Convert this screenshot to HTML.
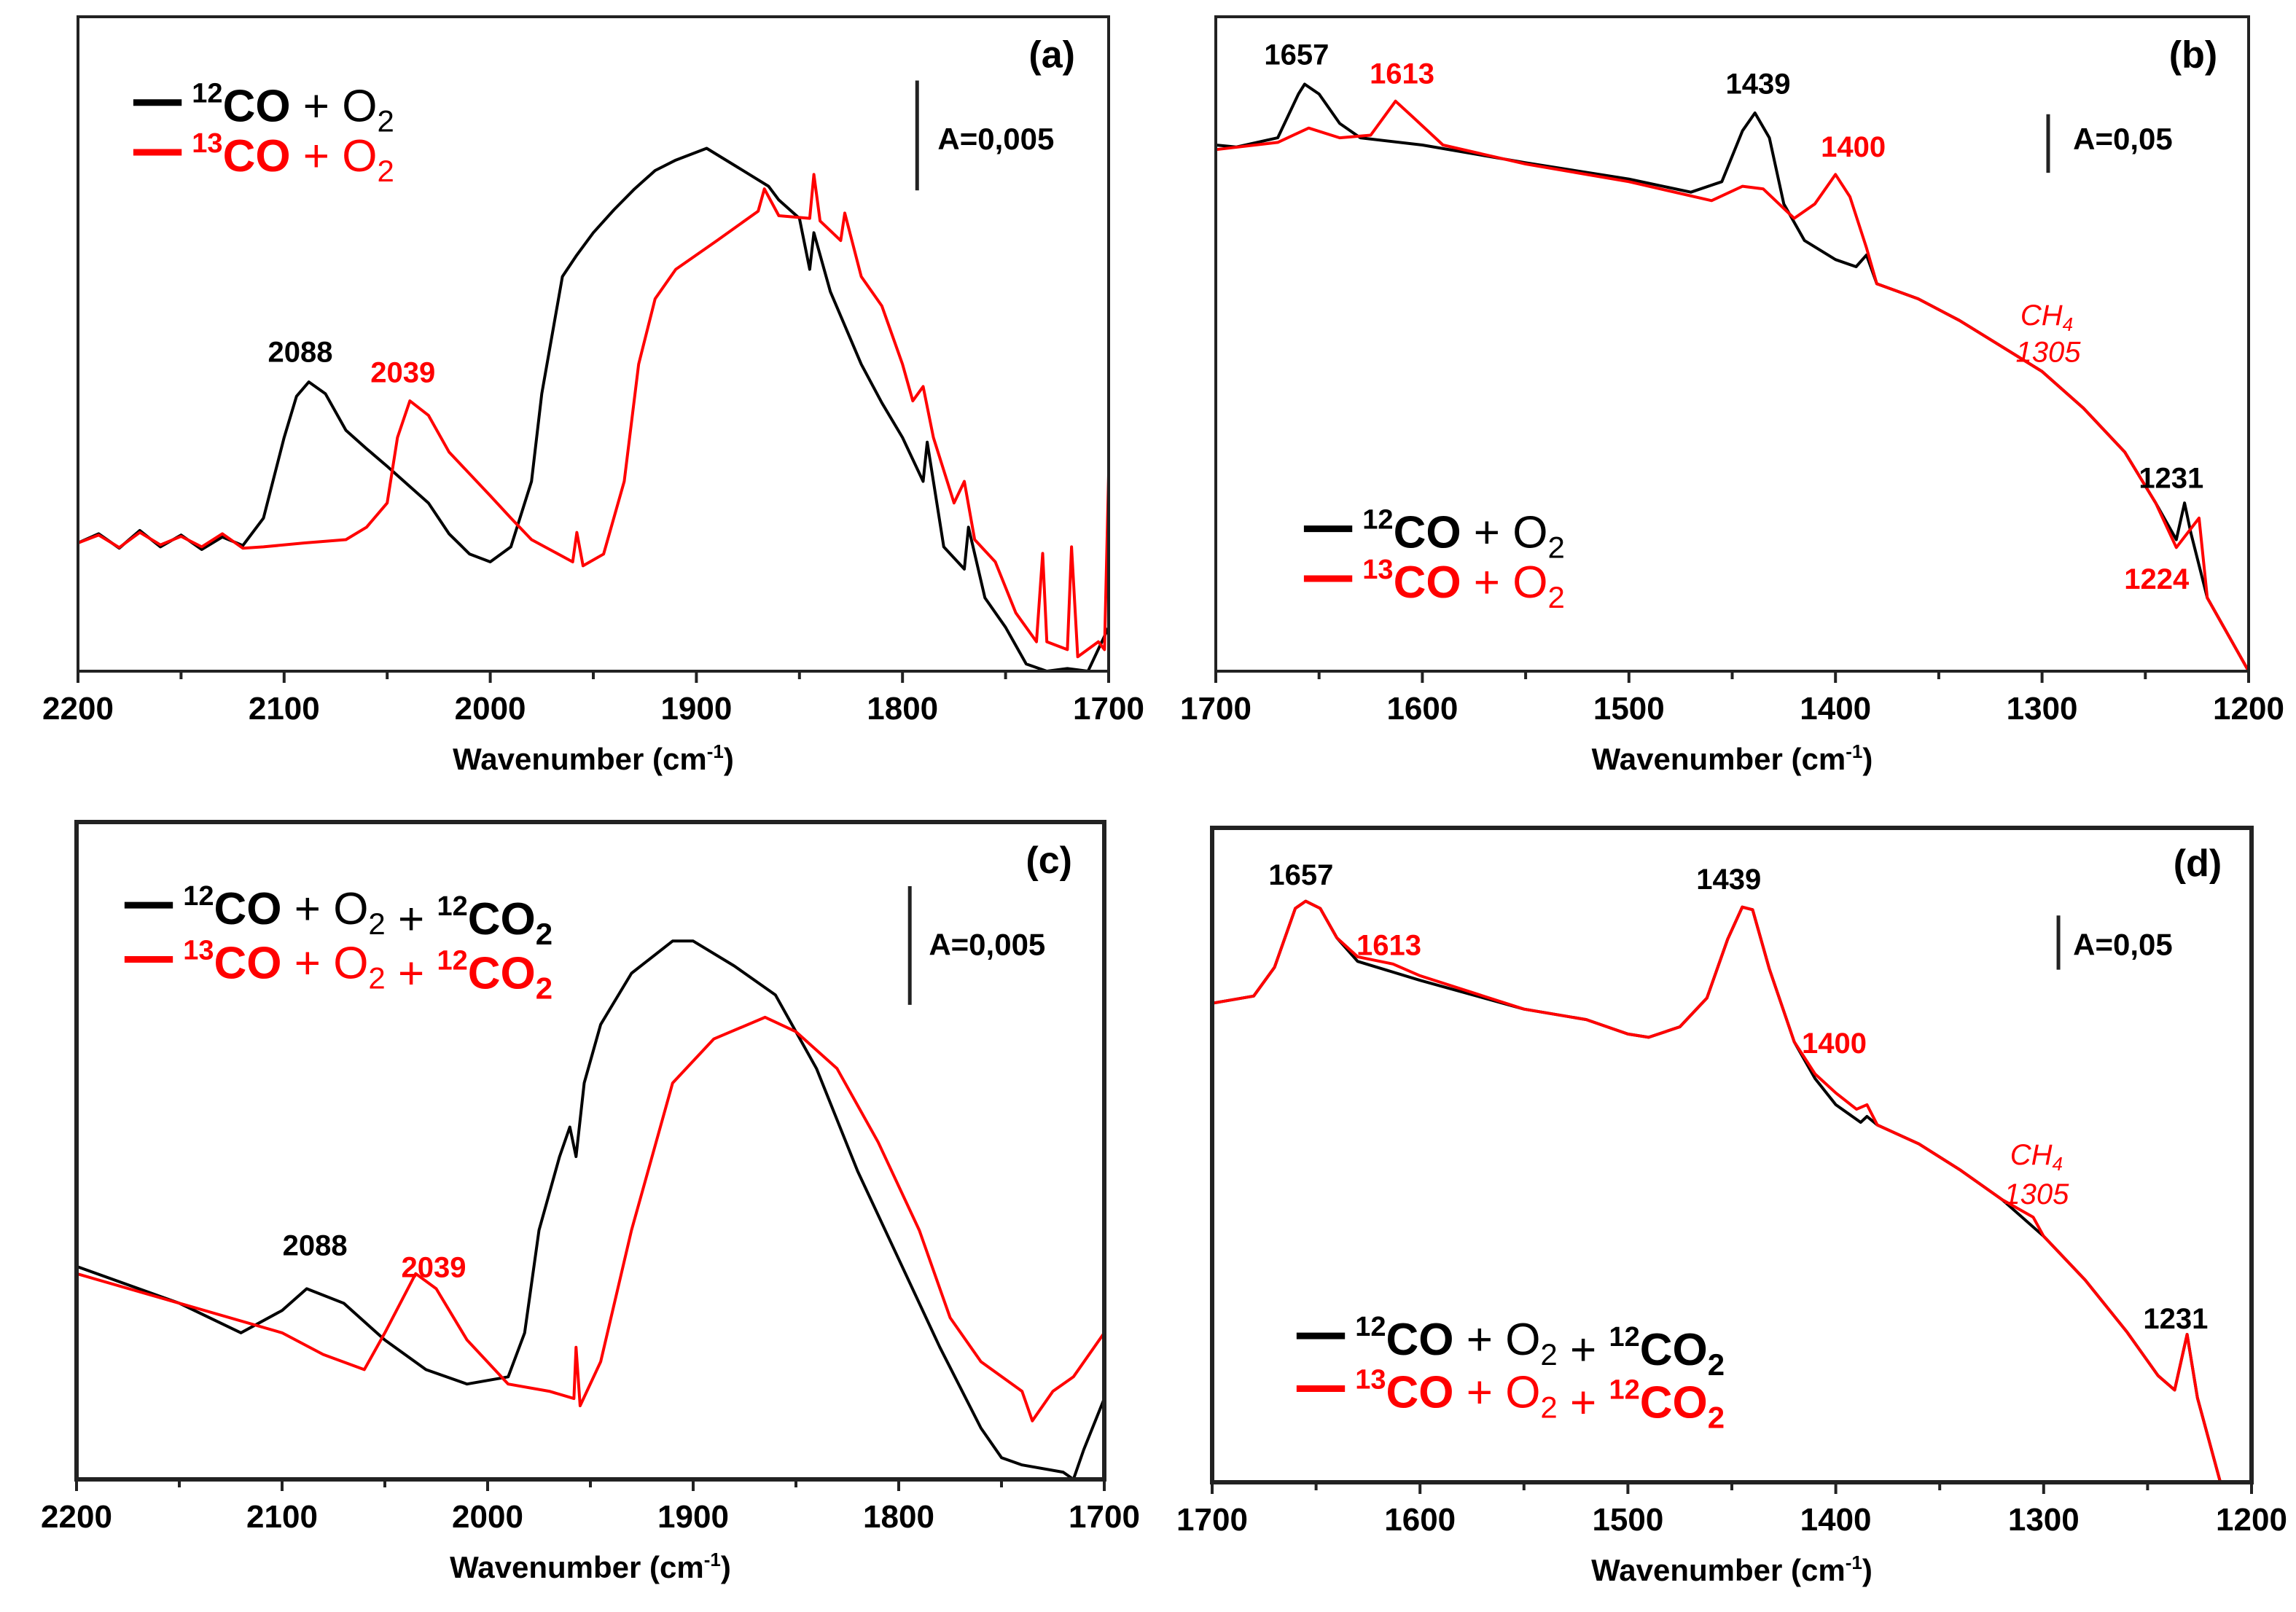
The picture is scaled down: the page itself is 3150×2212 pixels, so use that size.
<!DOCTYPE html>
<html><head><meta charset="utf-8">
<style>
html,body{margin:0;padding:0;background:#fff;}
svg{display:block;}
text{font-family:"Liberation Sans",Arial,sans-serif;}
</style></head>
<body>
<svg id="fig" width="3150" height="2212" viewBox="0 0 3150 2212" xmlns="http://www.w3.org/2000/svg"></svg>
<script>
// ---- Data (wavenumber in cm-1, absorbance in relative units 0-100) ----
const aBlackWn=[2200,2190,2180,2170,2160,2150,2140,2130,2120,2110,2100,2094,2088,2080,2070,2060,2050,2040,2030,2020,2010,2000,1990,1980,1975,1965,1958,1950,1940,1930,1920,1910,1895,1880,1865,1860,1850,1845,1843,1835,1820,1810,1800,1790,1788,1780,1770,1768,1760,1750,1740,1730,1720,1710,1700];
const aBlackAbs=[19.6,21.0,18.8,21.5,19.0,20.8,18.6,20.5,19.2,23.4,35.7,42.0,44.2,42.4,36.8,34.0,31.3,28.5,25.7,21.0,17.9,16.7,19.0,29.0,42.4,60.3,63.6,67.0,70.5,73.7,76.5,78.1,79.9,77.0,74.1,72.0,69.2,61.4,67.0,58.0,46.9,41.0,35.7,29.0,35.0,19.0,15.6,22.0,11.2,6.7,1.1,0,0.4,0,6.7];
const aRedWn=[2200,2190,2180,2170,2160,2150,2140,2130,2120,2110,2090,2070,2060,2050,2045,2039,2030,2020,2000,1990,1980,1960,1958,1955,1945,1935,1928,1920,1910,1890,1870,1867,1860,1845,1843,1840,1830,1828,1820,1810,1800,1795,1790,1785,1775,1770,1765,1755,1745,1735,1732,1730,1720,1718,1715,1705,1702,1700];
const aRedAbs=[19.6,20.8,18.9,21.2,19.3,20.6,19.0,21.0,18.8,19.0,19.6,20.1,22.0,25.7,35.7,41.3,39.1,33.5,26.8,23.4,20.1,16.7,21.2,16.1,17.9,29.0,46.9,56.9,61.4,65.8,70.3,73.7,69.6,69.2,75.9,68.8,65.8,70.0,60.3,55.8,46.9,41.3,43.5,35.7,25.7,29.0,20.1,16.7,8.9,4.5,18.0,4.5,3.3,19.0,2.2,4.5,3.3,30.1];

const bBlackWn=[1700,1690,1670,1660,1657,1650,1640,1630,1600,1550,1500,1470,1455,1445,1439,1432,1425,1415,1400,1390,1385,1380,1360,1340,1300,1280,1260,1245,1235,1231,1228,1220,1200];
const bBlackAbs=[80.4,80.1,81.5,88.2,89.7,88.2,83.7,81.5,80.4,77.7,75.2,73.2,74.8,82.6,85.3,81.5,71.4,65.8,62.9,61.8,63.6,59.2,56.9,53.6,45.8,40.2,33.5,25.7,20.1,25.7,21.2,11.2,0];
const bRedWn=[1700,1670,1655,1640,1625,1613,1605,1590,1550,1500,1460,1445,1435,1420,1410,1400,1393,1385,1380,1360,1340,1300,1280,1260,1245,1235,1224,1220,1200];
const bRedAbs=[79.7,80.8,83.0,81.5,81.9,87.1,84.8,80.4,77.5,74.8,71.9,74.1,73.7,69.2,71.4,75.9,72.5,64.7,59.2,56.9,53.6,45.8,40.2,33.5,25.7,18.9,23.4,11.2,0];

const cBlackWn=[2200,2150,2120,2100,2088,2070,2050,2030,2010,1990,1982,1975,1965,1960,1957,1953,1945,1930,1910,1900,1880,1860,1840,1820,1800,1780,1760,1750,1740,1720,1715,1710,1700];
const cBlackAbs=[32.4,26.8,22.3,25.7,29.0,26.8,21.2,16.7,14.5,15.6,22.3,37.9,49.1,53.6,49.1,60.3,69.2,77.0,81.9,81.9,78.1,73.7,62.5,46.9,33.5,20.1,7.8,3.3,2.2,1.1,0,4.5,12.3];
const cRedWn=[2200,2150,2100,2080,2060,2050,2035,2025,2010,1990,1970,1958,1957,1955,1945,1930,1910,1890,1865,1850,1830,1810,1790,1775,1760,1740,1735,1725,1715,1700];
const cRedAbs=[31.3,26.8,22.3,19.0,16.7,22.3,31.3,29.0,21.2,14.5,13.4,12.3,20.1,11.2,17.9,37.9,60.3,67.0,70.3,68.1,62.5,51.3,37.9,24.6,17.9,13.4,8.9,13.4,15.6,22.3];

const dBlackWn=[1700,1680,1670,1660,1655,1648,1640,1630,1600,1550,1520,1500,1490,1475,1462,1452,1445,1440,1432,1420,1410,1400,1388,1385,1380,1360,1340,1320,1300,1280,1260,1245,1237,1231,1226,1215];
const dBlackAbs=[73.2,74.3,78.7,87.7,88.8,87.7,83.2,79.6,76.7,72.3,70.7,68.5,68.0,69.6,74.0,83.0,87.9,87.5,78.5,67.3,61.7,57.7,55.0,55.9,54.6,51.7,47.7,43.2,37.6,30.9,23.0,16.3,14.1,22.6,12.9,0];
const dRedWn=[1700,1680,1670,1660,1655,1648,1640,1630,1613,1600,1550,1520,1500,1490,1475,1462,1452,1445,1440,1432,1420,1410,1400,1390,1385,1380,1360,1340,1320,1305,1300,1280,1260,1245,1237,1231,1226,1215];
const dRedAbs=[73.2,74.3,78.7,87.7,88.8,87.7,83.2,80.3,79.2,77.4,72.3,70.7,68.5,68.0,69.6,74.0,83.0,87.9,87.5,78.5,67.3,62.4,59.5,57.0,57.7,54.6,51.7,47.7,43.2,40.5,37.6,30.9,23.0,16.3,14.1,22.6,12.9,0];

const tickLabelsA=[2200,2100,2000,1900,1800,1700];
const tickLabelsB=[1700,1600,1500,1400,1300,1200];

const NS="http://www.w3.org/2000/svg";
const svg=document.getElementById('fig');
function el(tag,attrs,parent,txt){const e=document.createElementNS(NS,tag);for(const k in attrs)e.setAttribute(k,attrs[k]);if(txt!==undefined)e.textContent=txt;(parent||svg).appendChild(e);return e;}

const panels=[
 {id:'a',L:107,R:1521,T:23,B:921,x0:2200,x1:1700,ticks:tickLabelsA,lw:4,
  series:[[aBlackWn,aBlackAbs,'#000'],[aRedWn,aRedAbs,'#f00']]},
 {id:'b',L:1668,R:3085,T:23,B:921,x0:1700,x1:1200,ticks:tickLabelsB,lw:4,
  series:[[bBlackWn,bBlackAbs,'#000'],[bRedWn,bRedAbs,'#f00']]},
 {id:'c',L:105,R:1515,T:1128,B:2030,x0:2200,x1:1700,ticks:tickLabelsA,lw:6,
  series:[[cBlackWn,cBlackAbs,'#000'],[cRedWn,cRedAbs,'#f00']]},
 {id:'d',L:1663,R:3089,T:1136,B:2034,x0:1700,x1:1200,ticks:tickLabelsB,lw:6,
  series:[[dBlackWn,dBlackAbs,'#000'],[dRedWn,dRedAbs,'#f00']]}
];

panels.forEach(p=>{
  const g=el('g',{});
  
  
  const xs=w=>p.L+(w-p.x0)/(p.x1-p.x0)*(p.R-p.L);
  const ys=v=>p.B-v/100*(p.B-p.T);
  p.series.forEach((s,i)=>{
    const d=s[0].map((w,k)=>(k?'L':'M')+xs(w).toFixed(1)+' '+ys(s[1][k]).toFixed(1)).join(' ');
    const path=el('path',{d:d,fill:'none',stroke:s[2],'stroke-width':4,'stroke-linejoin':'round'},g);
    
    
  });
  const fr=el('rect',{x:p.L,y:p.T,width:p.R-p.L,height:p.B-p.T,fill:'none',stroke:'#222','stroke-width':p.lw},g);
  
  
  for(let w=p.x0;w>=p.x1;w-=50){
    const major=(w%100===0);
    el('line',{x1:xs(w),x2:xs(w),y1:p.B,y2:p.B+(major?16:11),stroke:'#222','stroke-width':4},g);
  }
  p.ticks.forEach(t=>{
    const tl=el('text',{x:xs(t),y:p.B+66,'text-anchor':'middle','font-size':44,'font-weight':'bold'},g,String(t));
    
    
  });
  const xl=el('text',{x:(p.L+p.R)/2,y:p.B+135,'text-anchor':'middle','font-size':42,'font-weight':'bold'},g);
  
  
  xl.innerHTML='Wavenumber (cm<tspan font-size="26" dy="-16">-1</tspan><tspan dy="16">)</tspan>';
});

const S=2.01;
function ann(x,y,txt,color,size,extra,name){
  const t=el('text',Object.assign({x:x*S,y:y*S,'text-anchor':'middle','font-size':size,'font-weight':'bold',fill:color},extra||{}),svg,txt);
  
  
  return t;
}
[['(a)',718,46],['(b)',1497,46],['(c)',716,596],['(d)',1500,598]].forEach(a=>{
  ann(a[1],a[2],a[0],'#000',52,{'font-family':'Liberation Serif, serif'},'panel-label');
});
ann(205,247,'2088','#000',40,{},'peak-label');
ann(275,261,'2039','#f00',40,{},'peak-label');
ann(885,44,'1657','#000',40,{},'peak-label');
ann(957,57,'1613','#f00',40,{},'peak-label');
ann(1200,64,'1439','#000',40,{},'peak-label');
ann(1265,107,'1400','#f00',40,{},'peak-label');
ann(1482,333,'1231','#000',40,{},'peak-label');
ann(1472,402,'1224','#f00',40,{},'peak-label');
ann(215,857,'2088','#000',40,{},'peak-label');
ann(296,872,'2039','#f00',40,{},'peak-label');
ann(888,604,'1657','#000',40,{},'peak-label');
ann(948,652,'1613','#f00',40,{},'peak-label');
ann(1180,607,'1439','#000',40,{},'peak-label');
ann(1252,719,'1400','#f00',40,{},'peak-label');
ann(1485,907,'1231','#000',40,{},'peak-label');
[[1397,222,1398,247],[1390,795,1390,822]].forEach(c=>{
  const t=ann(c[0],c[1],'','#f00',40,{'font-weight':'normal','font-style':'italic'},'ch4-label');
  t.innerHTML='CH<tspan font-size="26" dy="8">4</tspan>';
  ann(c[2],c[3],'1305','#f00',40,{'font-weight':'normal','font-style':'italic'},'ch4-wavenumber');
});
[[626,55,130,640,102,'A=0,005'],[1398,78,118,1415,102,'A=0,05'],[621,605,686,634,652,'A=0,005'],[1405,625,662,1415,652,'A=0,05']].forEach(b=>{
  const l=el('line',{x1:b[0]*S,x2:b[0]*S,y1:b[1]*S,y2:b[2]*S,stroke:'#222','stroke-width':5});
  
  
  ann(b[3],b[4],b[5],'#000',42,{'text-anchor':'start'},'scale-bar-label');
});
function legend(x,y,gap,items){
  items.forEach((it,i)=>{
    const yy=(y+i*gap)*S;
    const l=el('line',{x1:x*S,x2:(x+33)*S,y1:yy,y2:yy,stroke:it.c,'stroke-width':9});
    
    
    const t=el('text',{x:(x+40)*S,y:yy+26,'font-size':62,fill:it.c});
    
    
    t.innerHTML=it.h;
  });
}
const sup=n=>'<tspan font-size="38" dy="-26" font-weight="bold">'+n+'</tspan>';
const co=n=>sup(n)+'<tspan dy="26" font-weight="bold">CO</tspan>';
const o2=' + O<tspan font-size="42" dy="14">2</tspan><tspan dy="-14"></tspan>';
const co2=' + '+sup('12')+'<tspan dy="26" font-weight="bold">CO</tspan><tspan font-size="42" dy="14" font-weight="bold">2</tspan>';
legend(91,70,34,[{c:'#000',h:co('12')+o2},{c:'#f00',h:co('13')+o2}]);
legend(890,361,34,[{c:'#000',h:co('12')+o2},{c:'#f00',h:co('13')+o2}]);
legend(85,618,37,[{c:'#000',h:co('12')+o2+co2},{c:'#f00',h:co('13')+o2+co2}]);
legend(885,912,36,[{c:'#000',h:co('12')+o2+co2},{c:'#f00',h:co('13')+o2+co2}]);
</script>
</body></html>
